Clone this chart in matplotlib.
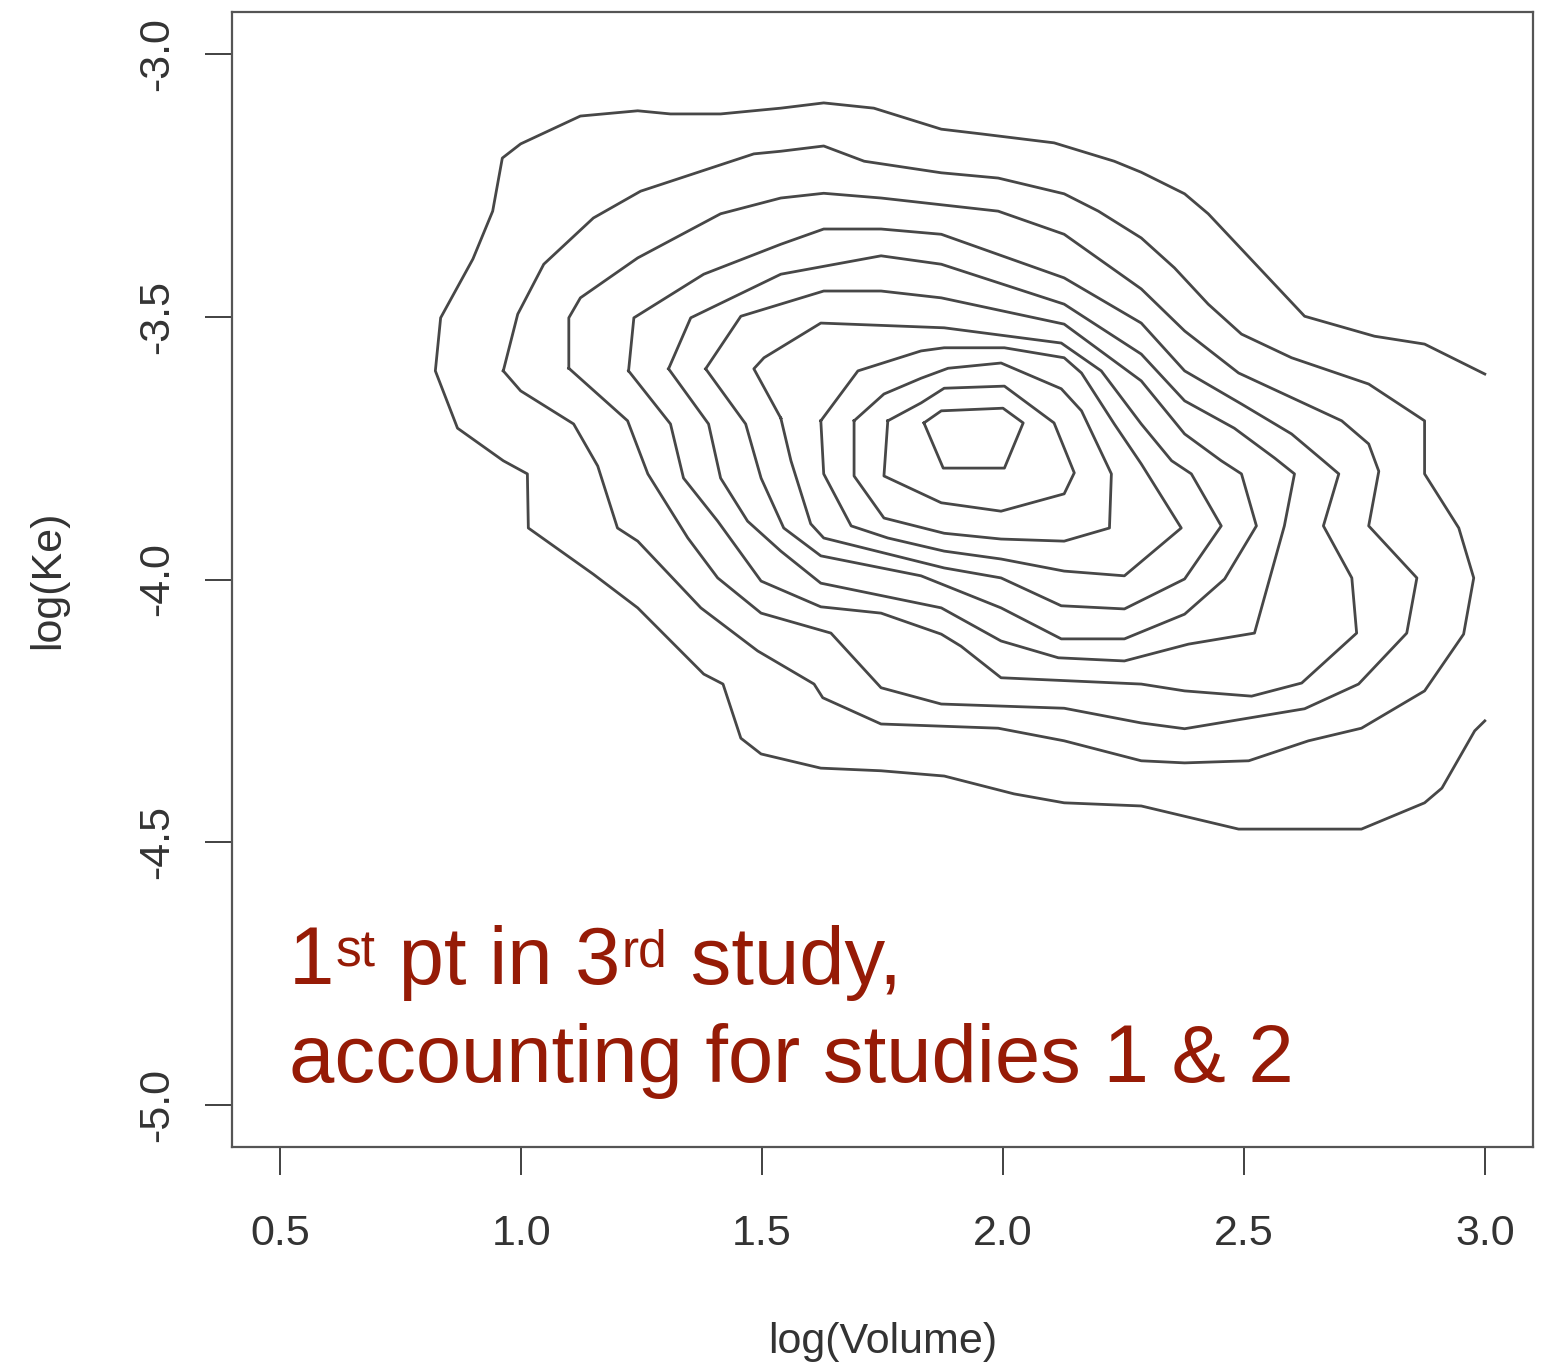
import matplotlib
matplotlib.use("Agg")
import matplotlib.pyplot as plt
import numpy as np

plt.rcParams['font.family'] = ['Liberation Sans', 'DejaVu Sans']
plt.rcParams['axes.unicode_minus'] = False

# contour levels of the posterior density, innermost first
c1_x = [1.836, 1.872, 2.000, 2.042, 2.003, 1.876]
c1_y = [-3.702, -3.679, -3.674, -3.702, -3.788, -3.788]

c2_x = [1.761, 1.830, 1.878, 2.003, 2.106, 2.148, 2.127, 1.996, 1.872, 1.753]
c2_y = [-3.698, -3.664, -3.636, -3.632, -3.702, -3.797, -3.837, -3.870, -3.854, -3.803]

c3_x = [1.691, 1.753, 1.830, 1.886, 1.996, 2.121, 2.163, 2.225, 2.221, 2.127,
        1.996, 1.878, 1.753, 1.691]
c3_y = [-3.698, -3.647, -3.617, -3.598, -3.588, -3.637, -3.679, -3.799, -3.902, -3.927,
        -3.923, -3.912, -3.883, -3.803]

c4_x = [1.622, 1.699, 1.830, 1.878, 2.003, 2.127, 2.163, 2.231, 2.287, 2.370,
        2.252, 2.127, 1.996, 1.878, 1.761, 1.685, 1.628]
c4_y = [-3.698, -3.603, -3.565, -3.559, -3.559, -3.578, -3.607, -3.704, -3.780, -3.902,
        -3.993, -3.984, -3.961, -3.946, -3.921, -3.898, -3.799]

c5_x = [1.539, 1.483, 1.504, 1.622, 1.878, 2.121, 2.204, 2.287, 2.350, 2.391,
        2.453, 2.377, 2.252, 2.121, 1.996, 1.878, 1.628, 1.601, 1.560]
c5_y = [-3.693, -3.599, -3.578, -3.512, -3.521, -3.550, -3.603, -3.704, -3.774, -3.799,
        -3.898, -3.999, -4.056, -4.050, -3.997, -3.978, -3.921, -3.894, -3.774]

c6_x = [1.383, 1.456, 1.628, 1.747, 1.872, 2.127, 2.287, 2.377, 2.453, 2.495,
        2.526, 2.460, 2.377, 2.252, 2.121, 1.996, 1.830, 1.622, 1.545, 1.498, 1.466]
c6_y = [-3.599, -3.499, -3.451, -3.451, -3.464, -3.514, -3.622, -3.723, -3.774, -3.799,
        -3.898, -3.999, -4.066, -4.113, -4.113, -4.054, -3.993, -3.955, -3.902, -3.807, -3.704]

c7_x = [1.306, 1.352, 1.539, 1.747, 1.872, 2.127, 2.287, 2.377, 2.480, 2.564,
        2.605, 2.584, 2.522, 2.385, 2.252, 2.115, 1.996, 1.872, 1.622, 1.539,
        1.470, 1.414, 1.389]
c7_y = [-3.599, -3.502, -3.419, -3.384, -3.400, -3.476, -3.571, -3.660, -3.712, -3.769,
        -3.799, -3.898, -4.102, -4.123, -4.155, -4.149, -4.117, -4.054, -4.007, -3.946,
        -3.889, -3.807, -3.704]

c8_x = [1.223, 1.234, 1.379, 1.539, 1.628, 1.747, 1.872, 2.127, 2.287, 2.377,
        2.495, 2.599, 2.665, 2.697, 2.665, 2.724, 2.734, 2.620, 2.516, 2.377,
        2.287, 1.996, 1.913, 1.872, 1.747, 1.622, 1.498, 1.408, 1.337, 1.310]
c8_y = [-3.603, -3.502, -3.419, -3.362, -3.333, -3.333, -3.343, -3.426, -3.512, -3.603,
        -3.666, -3.723, -3.774, -3.799, -3.898, -3.997, -4.102, -4.197, -4.222, -4.212,
        -4.199, -4.187, -4.127, -4.104, -4.064, -4.052, -4.003, -3.889, -3.807, -3.704]

c9_x = [1.099, 1.099, 1.123, 1.242, 1.414, 1.539, 1.628, 1.747, 1.990, 2.127,
        2.287, 2.377, 2.489, 2.703, 2.759, 2.780, 2.759, 2.859, 2.838, 2.738,
        2.626, 2.377, 2.287, 2.127, 1.872, 1.747, 1.643, 1.498, 1.408, 1.346,
        1.263, 1.221]
c9_y = [-3.598, -3.502, -3.464, -3.388, -3.304, -3.274, -3.265, -3.274, -3.299, -3.343,
        -3.447, -3.527, -3.607, -3.698, -3.742, -3.794, -3.898, -3.997, -4.102, -4.199,
        -4.246, -4.284, -4.273, -4.245, -4.237, -4.206, -4.102, -4.064, -3.997, -3.921,
        -3.799, -3.698]

c10_x = [0.963, 0.993, 1.047, 1.150, 1.248, 1.483, 1.539, 1.628, 1.712, 1.872,
         1.990, 2.127, 2.198, 2.287, 2.356, 2.426, 2.495, 2.599, 2.759, 2.875,
         2.875, 2.946, 2.977, 2.956, 2.875, 2.744, 2.634, 2.510, 2.377, 2.287,
         2.127, 1.990, 1.747, 1.626, 1.608, 1.491, 1.373, 1.242, 1.200, 1.159,
         1.109, 0.999]
c10_y = [-3.603, -3.495, -3.400, -3.312, -3.261, -3.190, -3.185, -3.175, -3.204, -3.226,
         -3.236, -3.266, -3.299, -3.350, -3.407, -3.476, -3.533, -3.578, -3.628, -3.698,
         -3.799, -3.902, -3.997, -4.104, -4.212, -4.283, -4.307, -4.345, -4.349, -4.345,
         -4.307, -4.283, -4.275, -4.225, -4.199, -4.136, -4.054, -3.927, -3.902, -3.784,
         -3.704, -3.641]

# outermost level runs off the right edge of the grid, so it stays open
c11_x = [3.000, 2.875, 2.771, 2.626, 2.426, 2.377, 2.287, 2.231, 2.106, 1.955,
         1.872, 1.732, 1.628, 1.539, 1.414, 1.310, 1.242, 1.123, 0.999, 0.961,
         0.941, 0.900, 0.833, 0.822, 0.868, 0.963, 1.013, 1.015, 1.150, 1.242, 1.379,
         1.419, 1.456, 1.498, 1.622, 1.747, 1.878, 2.023, 2.127, 2.287, 2.489,
         2.744, 2.875, 2.911, 2.979, 3.000]
c11_y = [-3.609, -3.552, -3.537, -3.499, -3.304, -3.266, -3.225, -3.204, -3.169, -3.152,
         -3.143, -3.103, -3.093, -3.103, -3.114, -3.114, -3.108, -3.118, -3.171, -3.198,
         -3.299, -3.390, -3.502, -3.603, -3.712, -3.774, -3.799, -3.902, -3.990, -4.054, -4.180,
         -4.199, -4.302, -4.332, -4.359, -4.364, -4.374, -4.408, -4.425, -4.431, -4.475,
         -4.475, -4.425, -4.397, -4.288, -4.269]

closed_levels = [(c1_x, c1_y), (c2_x, c2_y), (c3_x, c3_y), (c4_x, c4_y), (c5_x, c5_y),
                 (c6_x, c6_y), (c7_x, c7_y), (c8_x, c8_y), (c9_x, c9_y), (c10_x, c10_y)]

x_ticks = [0.5, 1.0, 1.5, 2.0, 2.5, 3.0]
y_ticks = [-5.0, -4.5, -4.0, -3.5, -3.0]

# note text, split so the ordinals can be set as superscripts
note_line1 = [('1', False), ('st', True), (' pt in 3', False), ('rd', True), (' study,', False)]
note_line2 = 'accounting for studies 1 & 2'

line_col = '#474747'
text_col = '#961b06'

fig = plt.figure(figsize=(15.41, 13.69), dpi=100)
ax = fig.add_axes([232 / 1541, 1 - 1147 / 1369, 1301 / 1541, 1135 / 1369])

for cx, cy in closed_levels:
    ax.plot(np.append(cx, cx[0]), np.append(cy, cy[0]), color=line_col, lw=2.0,
            solid_joinstyle='round')
ax.plot(c11_x, c11_y, color=line_col, lw=2.0, solid_joinstyle='round')

ax.set_xlim(0.4, 3.1)
ax.set_ylim(-5.08, -2.92)
ax.set_xticks(x_ticks)
ax.set_xticklabels([f'{v:.1f}' for v in x_ticks])
ax.set_yticks(y_ticks)
ax.set_yticklabels([f'{v:.1f}' for v in y_ticks], rotation=90, va='center')

for s in ax.spines.values():
    s.set_color('#555555')
    s.set_linewidth(1.6)

ax.tick_params(axis='x', length=20, width=1.3, color='#333333', pad=28,
               labelsize=31, labelcolor='#333333')
ax.tick_params(axis='y', length=19.5, width=1.3, color='#333333', pad=20,
               labelsize=31, labelcolor='#333333')

ax.set_xlabel('log(Volume)', fontsize=31, color='#333333')
ax.xaxis.set_label_coords(0.5, -0.154)
ax.set_ylabel('log(Ke)', fontsize=31, color='#333333')
ax.yaxis.set_label_coords(-0.126, 0.5)

big, small = 58.6, 37
first = ax.text(0.044, 0.1285, note_line1[0][0], transform=ax.transAxes,
                fontsize=big, color=text_col, va='bottom', ha='left')
prev = first
for piece, sup in note_line1[1:]:
    prev = ax.annotate(piece, xy=(1, 0), xycoords=(prev, first),
                       xytext=(1 if sup else 0, 17 if sup else 0), textcoords='offset points',
                       fontsize=small if sup else big, color=text_col, va='bottom', ha='left')
ax.text(0.044, 0.0573, note_line2, transform=ax.transAxes,
        fontsize=big, color=text_col, va='baseline', ha='left')

fig.savefig('out.png', dpi=100)
